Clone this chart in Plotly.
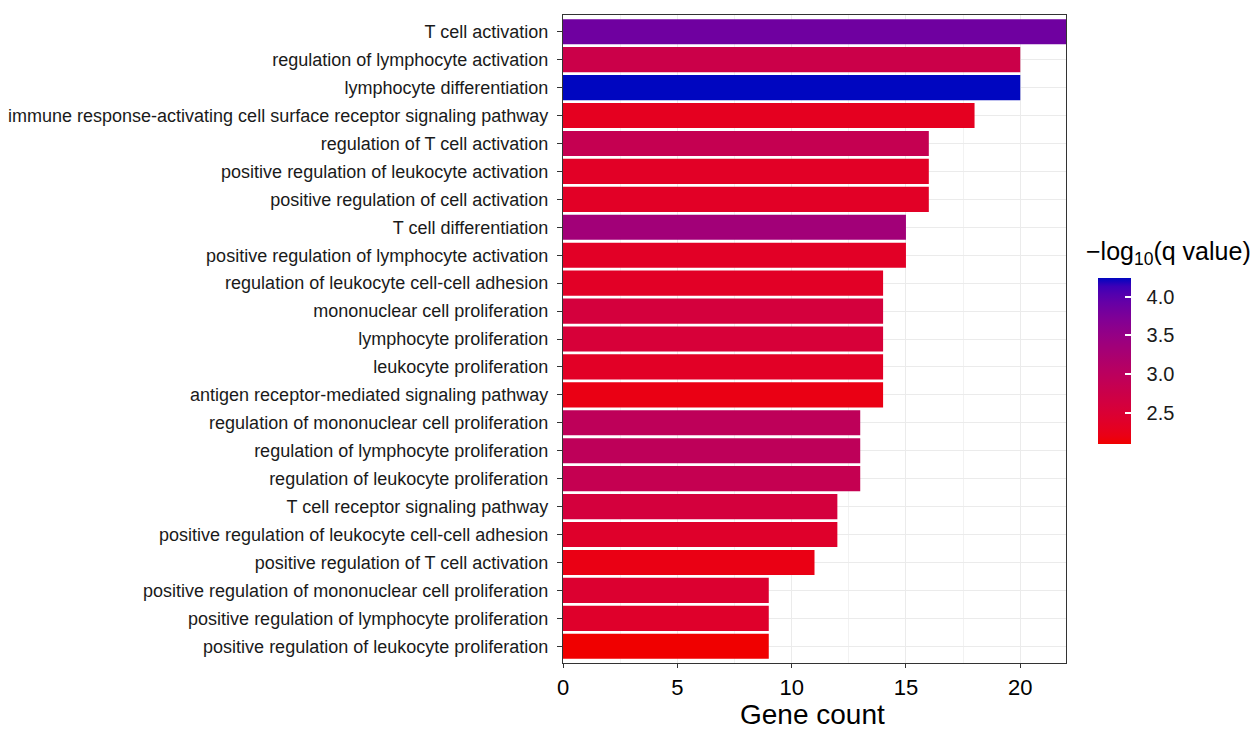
import plotly.graph_objects as go
import numpy as np

# GO terms, listed top to bottom
terms = [
    "T cell activation",
    "regulation of lymphocyte activation",
    "lymphocyte differentiation",
    "immune response-activating cell surface receptor signaling pathway",
    "regulation of T cell activation",
    "positive regulation of leukocyte activation",
    "positive regulation of cell activation",
    "T cell differentiation",
    "positive regulation of lymphocyte activation",
    "regulation of leukocyte cell-cell adhesion",
    "mononuclear cell proliferation",
    "lymphocyte proliferation",
    "leukocyte proliferation",
    "antigen receptor-mediated signaling pathway",
    "regulation of mononuclear cell proliferation",
    "regulation of lymphocyte proliferation",
    "regulation of leukocyte proliferation",
    "T cell receptor signaling pathway",
    "positive regulation of leukocyte cell-cell adhesion",
    "positive regulation of T cell activation",
    "positive regulation of mononuclear cell proliferation",
    "positive regulation of lymphocyte proliferation",
    "positive regulation of leukocyte proliferation",
]
gene_count = [22, 20, 20, 18, 16, 16, 16, 15, 15, 14, 14, 14, 14, 14,
              13, 13, 13, 12, 12, 11, 9, 9, 9]
neg_log10_q = [3.85, 2.75, 4.24, 2.30, 2.85, 2.35, 2.35, 3.35, 2.35, 2.35,
               2.60, 2.55, 2.35, 2.20, 2.95, 2.95, 2.85, 2.60, 2.40, 2.20,
               2.45, 2.40, 2.10]
x_ticks = [0, 5, 10, 15, 20]
cbar_ticks = [2.5, 3.0, 3.5, 4.0]


# red -> blue gradient interpolated in CIE Lab space
def hex_to_rgb(h):
    h = h.lstrip("#")
    return [int(h[i:i + 2], 16) / 255 for i in (0, 2, 4)]


def srgb_to_lin(c):
    return c / 12.92 if c <= 0.04045 else ((c + 0.055) / 1.055) ** 2.4


def lin_to_srgb(c):
    c = min(max(c, 0.0), 1.0)
    return 12.92 * c if c <= 0.0031308 else 1.055 * c ** (1 / 2.4) - 0.055


WHITE = (0.95047, 1.0, 1.08883)


def rgb_to_lab(rgb):
    r, g, b = [srgb_to_lin(c) for c in rgb]
    X = 0.4124 * r + 0.3576 * g + 0.1805 * b
    Y = 0.2126 * r + 0.7152 * g + 0.0722 * b
    Z = 0.0193 * r + 0.1192 * g + 0.9505 * b

    def f(t):
        return t ** (1 / 3) if t > 0.008856 else 7.787 * t + 16 / 116

    fx, fy, fz = f(X / WHITE[0]), f(Y / WHITE[1]), f(Z / WHITE[2])
    return (116 * fy - 16, 500 * (fx - fy), 200 * (fy - fz))


def lab_to_rgb(lab):
    L, a, b = lab
    fy = (L + 16) / 116
    fx = fy + a / 500
    fz = fy - b / 200

    def finv(t):
        return t ** 3 if t ** 3 > 0.008856 else (t - 16 / 116) / 7.787

    X, Y, Z = finv(fx) * WHITE[0], finv(fy) * WHITE[1], finv(fz) * WHITE[2]
    r = 3.2406 * X - 1.5372 * Y - 0.4986 * Z
    g = -0.9689 * X + 1.8758 * Y + 0.0415 * Z
    bb = 0.0557 * X - 0.2040 * Y + 1.0570 * Z
    return "rgb(%d,%d,%d)" % tuple(round(lin_to_srgb(c) * 255) for c in (r, g, bb))


low_lab = rgb_to_lab(hex_to_rgb("#F00000"))
high_lab = rgb_to_lab(hex_to_rgb("#0006C0"))
colorscale = []
for t in np.linspace(0, 1, 21):
    lab = tuple(l0 + (l1 - l0) * t for l0, l1 in zip(low_lab, high_lab))
    colorscale.append([float(t), lab_to_rgb(lab)])

FONT = "Liberation Sans, Arial, sans-serif"

fig = go.Figure(
    go.Bar(
        x=gene_count,
        y=terms,
        orientation="h",
        width=0.9,
        marker=dict(
            color=neg_log10_q,
            colorscale=colorscale,
            cmin=min(neg_log10_q),
            cmax=max(neg_log10_q),
            line=dict(width=0),
            colorbar=dict(
                thickness=33,
                len=166,
                lenmode="pixels",
                x=1.0636,
                xanchor="left",
                y=0.466,
                yanchor="middle",
                outlinewidth=0,
                tickvals=cbar_ticks,
                ticktext=["\u00a0\u00a0%.1f" % v for v in cbar_ticks],
                ticks="inside",
                ticklen=6,
                tickcolor="white",
                tickwidth=1.5,
                tickfont=dict(family=FONT, size=20, color="#1a1a1a"),
                ypad=0,
                xpad=0,
            ),
        ),
        hoverinfo="x+y",
    )
)

# colour legend title
fig.add_annotation(
    x=1.036, y=0.633, xref="paper", yref="paper",
    xanchor="left", yanchor="middle", showarrow=False,
    text="\u2212log<sub>10</sub>(q value)",
    font=dict(family=FONT, size=25, color="#000000"),
)

# x-axis title
fig.add_annotation(
    x=0.497, y=-0.1045, xref="paper", yref="paper",
    xanchor="center", yanchor="bottom", showarrow=False,
    text="Gene count", borderpad=0,
    font=dict(family=FONT, size=28, color="#000000"),
)

fig.update_layout(
    width=1253,
    height=731,
    margin=dict(l=563, r=187, t=15, b=68),
    paper_bgcolor="white",
    plot_bgcolor="white",
    showlegend=False,
    font=dict(family=FONT, color="#000000"),
    xaxis=dict(
        automargin=False,
        range=[0, 22],
        tickvals=x_ticks,
        ticks="outside",
        ticklen=4,
        tickcolor="#333333",
        tickfont=dict(family=FONT, size=22, color="#000000"),
        showgrid=True,
        gridcolor="#EBEBEB",
        gridwidth=1.2,
        minor=dict(dtick=2.5, tick0=0, showgrid=True, gridcolor="#F2F2F2", gridwidth=0.8),
        zeroline=False,
        showline=True,
        linecolor="#333333",
        linewidth=1.2,
        mirror=True,
    ),
    yaxis=dict(
        automargin=False,
        categoryorder="array",
        categoryarray=terms,
        range=[22.6, -0.6],
        ticks="outside",
        ticklen=5,
        tickcolor="#333333",
        tickfont=dict(family=FONT, size=18, color="#1a1a1a"),
        showgrid=True,
        gridcolor="#EBEBEB",
        gridwidth=1.2,
        zeroline=False,
        showline=True,
        linecolor="#333333",
        linewidth=1.2,
        mirror=True,
        ticksuffix=" ",
    ),
)

fig.write_html("out.html")
